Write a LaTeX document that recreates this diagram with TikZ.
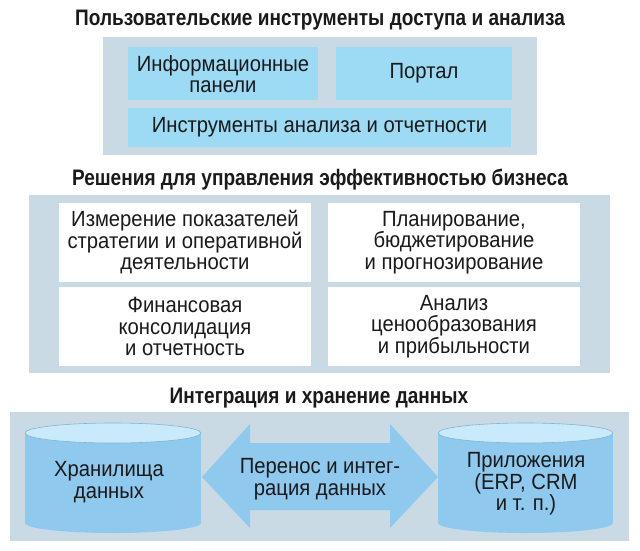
\documentclass[tikz,border=0pt]{standalone}
\usepackage{fontspec}
\setmainfont{Liberation Sans}
\newfontfamily\titlefont[FakeStretch=0.85]{Liberation Sans}
\newfontfamily\bodyfont[FakeStretch=0.92]{Liberation Sans}
\definecolor{panelc}{HTML}{C9DAE5}
\definecolor{cyanbox}{HTML}{9DDBF5}
\definecolor{cylbody}{HTML}{8FC9EE}
\definecolor{cyltop}{HTML}{C8EAFA}
\definecolor{textc}{HTML}{1A1A1A}
\tikzset{
  paneltitle/.style={font=\titlefont\bfseries\fontsize{22.4}{23}\selectfont, text=textc, inner sep=0pt, anchor=base},
  panelbg/.style={fill=panelc, draw=none},
  cyanrect/.style={fill=cyanbox, draw=none},
  whiterect/.style={fill=white, draw=none},
  boxtext/.style={font=\bodyfont\fontsize{22}{21.5}\selectfont, text=textc, align=center, inner sep=0pt},
}
\begin{document}
\begin{tikzpicture}[x=1pt,y=-1pt]
\useasboundingbox (0,0) rectangle (640,551);
\fill[white] (0,0) rectangle (640,551);

% ---------- top section ----------
\node[paneltitle] (t1) at (320,26) {Пользовательские инструменты доступа и анализа};
\fill[panelbg] (103,37) rectangle (537,155);
\fill[cyanrect] (128,47) rectangle (318,100);
\fill[cyanrect] (336,47) rectangle (512,100);
\fill[cyanrect] (128,108) rectangle (511,147);
\node[boxtext] (dash) at (223,74) {Информационные\\панели};
\node[boxtext] (portal) at (424,73.5) {Портал};
\node[boxtext] (tools) at (319.5,127.5) {Инструменты анализа и отчетности};

% ---------- middle section ----------
\node[paneltitle] (t2) at (320,185) {Решения для управления эффективностью бизнеса};
\fill[panelbg] (29,195) rectangle (610,373);
\fill[whiterect] (59,203) rectangle (311,282);
\fill[whiterect] (328,203) rectangle (580,282);
\fill[whiterect] (59,287) rectangle (311,366);
\fill[whiterect] (328,287) rectangle (580,366);
\node[boxtext] (kpi) at (185,242.5) {Измерение показателей\\стратегии и оперативной\\деятельности};
\node[boxtext] (plan) at (454,242.5) {Планирование,\\бюджетирование\\и прогнозирование};
\node[boxtext] (fin) at (185,326.5) {Финансовая\\консолидация\\и отчетность};
\node[boxtext] (price) at (454,326.5) {Анализ\\ценообразования\\и прибыльности};

% ---------- bottom section ----------
\node[paneltitle] (t3) at (319,403) {Интеграция и хранение данных};
\fill[panelbg] (10,412) rectangle (629,541);

% left cylinder
\fill[cylbody] (25,433) rectangle (201,523);
\fill[cylbody] (113,523) ellipse [x radius=88, y radius=10];
\filldraw[fill=cyltop, draw=cylbody!85!black!90, line width=0.6pt] (113,433) ellipse [x radius=88, y radius=10];
% right cylinder
\fill[cylbody] (438,433) rectangle (613,523);
\fill[cylbody] (525.5,523) ellipse [x radius=87.5, y radius=10];
\filldraw[fill=cyltop, draw=cylbody!85!black!90, line width=0.6pt] (525.5,433) ellipse [x radius=87.5, y radius=10];

% double arrow
\fill[cylbody] (202,477) -- (250,424) -- (250,443) -- (390,443) -- (390,424)
  -- (438,477) -- (390,528) -- (390,510) -- (250,510) -- (250,528) -- cycle;

\node[boxtext] (dw) at (109,482) {Хранилища\\данных};
\node[boxtext] (flow) at (320,479) {Перенос и интег-\\рация данных};
\node[boxtext] (apps) at (526,484) {Приложения\\(ERP, CRM\\и т. п.)};
\end{tikzpicture}
\end{document}
